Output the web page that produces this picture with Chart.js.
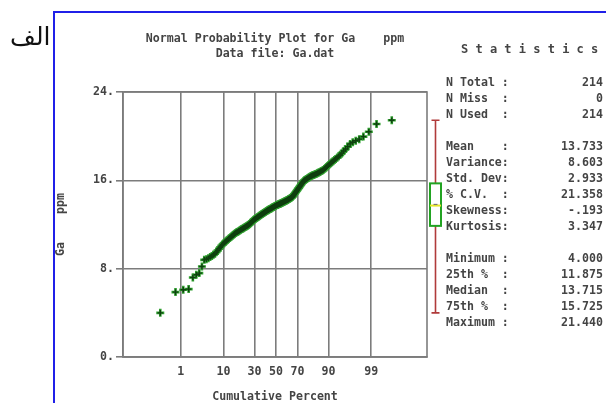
<!DOCTYPE html>
<html>
<head>
<meta charset="utf-8">
<script src="https://cdn.jsdelivr.net/npm/chart.js@4.4.1/dist/chart.umd.min.js"></script>
<style>
  body { margin: 0; background: #fff; }
  #wrap { position: relative; width: 606px; height: 403px; overflow: hidden; }
  #wrap canvas { position: absolute; left: 0; top: 0; }
  .mono { font-family: 'DejaVu Sans Mono', monospace; font-size: 11.6px; font-weight: bold; color: #444; white-space: pre; }
  #frame { position: absolute; left: 53px; top: 11px; right: 0; bottom: 0; border-left: 2px solid #2020e8; border-top: 2px solid #2020e8; }
  #alef { position: absolute; left: 10px; top: 22px; font-family: 'DejaVu Sans', sans-serif; font-size: 25px; color: #111; direction: rtl; }
  #title { position: absolute; left: 75px; width: 400px; top: 31px; text-align: center; line-height: 15px; }
  #statHead { position: absolute; left: 461px; top: 42px; font-size: 12px; }
  #stats { position: absolute; left: 446px; top: 74px; width: 157px; }
  #stats div { display: flex; justify-content: space-between; height: 16px; line-height: 16px; }
</style>
</head>
<body>
<div id="wrap">
  <canvas id="probPlot" width="606" height="403"></canvas>
  <div id="frame"></div>
  <div id="alef">الف</div>
  <div id="title" class="mono">Normal Probability Plot for Ga    ppm
Data file: Ga.dat</div>
  <div id="statHead" class="mono">S t a t i s t i c s</div>
  <div id="stats" class="mono"></div>
</div>
<script>
// Ga (ppm), sorted ascending, 214 samples
const gaValues = [
  4.00, 5.88, 6.09, 6.15, 7.20, 7.45, 7.60, 8.20, 8.80, 8.85,
  8.95, 9.05, 9.15, 9.25, 9.35, 9.50, 9.65, 9.80, 9.93, 10.06,
  10.18, 10.30, 10.39, 10.47, 10.55, 10.62, 10.70, 10.77, 10.84, 10.91,
  10.98, 11.04, 11.11, 11.17, 11.22, 11.27, 11.31, 11.35, 11.40, 11.44,
  11.48, 11.52, 11.56, 11.59, 11.63, 11.67, 11.71, 11.74, 11.78, 11.82,
  11.85, 11.89, 11.92, 11.95, 12.00, 12.05, 12.10, 12.15, 12.20, 12.25,
  12.30, 12.35, 12.40, 12.45, 12.48, 12.52, 12.55, 12.59, 12.62, 12.65,
  12.69, 12.72, 12.75, 12.79, 12.82, 12.85, 12.88, 12.92, 12.95, 12.98,
  13.01, 13.04, 13.07, 13.10, 13.13, 13.16, 13.19, 13.22, 13.25, 13.28,
  13.30, 13.33, 13.35, 13.38, 13.40, 13.43, 13.46, 13.48, 13.51, 13.53,
  13.56, 13.58, 13.61, 13.63, 13.66, 13.68, 13.69, 13.74, 13.76, 13.77,
  13.79, 13.81, 13.83, 13.85, 13.87, 13.89, 13.91, 13.93, 13.95, 13.97,
  13.99, 14.02, 14.04, 14.06, 14.08, 14.10, 14.13, 14.15, 14.17, 14.20,
  14.22, 14.25, 14.28, 14.31, 14.33, 14.36, 14.39, 14.42, 14.45, 14.48,
  14.52, 14.58, 14.65, 14.72, 14.79, 14.85, 14.92, 14.99, 15.06, 15.13,
  15.20, 15.27, 15.34, 15.41, 15.49, 15.55, 15.63, 15.71, 15.78, 15.86,
  15.93, 15.98, 16.02, 16.05, 16.09, 16.13, 16.17, 16.21, 16.25, 16.29,
  16.33, 16.37, 16.40, 16.43, 16.46, 16.48, 16.51, 16.54, 16.57, 16.60,
  16.64, 16.68, 16.72, 16.76, 16.81, 16.85, 16.89, 16.94, 17.02, 17.10,
  17.19, 17.28, 17.37, 17.45, 17.54, 17.63, 17.73, 17.84, 17.94, 18.05,
  18.17, 18.30, 18.46, 18.65, 18.84, 19.05, 19.30, 19.45, 19.58, 19.73,
  19.96, 20.40, 21.10, 21.44
]

const percentTicks = [1, 10, 30, 50, 70, 90, 99]

const statLabels = ['N Total :', 'N Miss  :', 'N Used  :', '',
  'Mean    :', 'Variance:', 'Std. Dev:', '% C.V.  :', 'Skewness:', 'Kurtosis:', '',
  'Minimum :', '25th %  :', 'Median  :', '75th %  :', 'Maximum :']
const statValues = ['214', '0', '214', '',
  '13.733', '8.603', '2.933', '21.358', '-.193', '3.347', '',
  '4.000', '11.875', '13.715', '15.725', '21.440']

// box plot summary: min, q1, median, q3, max, mean
const boxStats = { min: 4.0, q1: 11.875, median: 13.715, q3: 15.725, max: 21.44, mean: 13.733 }

// inverse normal CDF (Acklam)
function probit(p) {
  const a = [-3.969683028665376e+01, 2.209460984245205e+02, -2.759285104469687e+02, 1.383577518672690e+02, -3.066479806614716e+01, 2.506628277459239e+00]
  const b = [-5.447609879822406e+01, 1.615858368580409e+02, -1.556989798598866e+02, 6.680131188771972e+01, -1.328068155288572e+01]
  const c = [-7.784894002430293e-03, -3.223964580411365e-01, -2.400758277161838e+00, -2.549732539343734e+00, 4.374664141464968e+00, 2.938163982698783e+00]
  const d = [7.784695709041462e-03, 3.224671290700398e-01, 2.445134137142996e+00, 3.754408661907416e+00]
  const tail = (q) => (((((c[0] * q + c[1]) * q + c[2]) * q + c[3]) * q + c[4]) * q + c[5]) /
    ((((d[0] * q + d[1]) * q + d[2]) * q + d[3]) * q + 1)
  if (p < 0.02425) return tail(Math.sqrt(-2 * Math.log(p)))
  if (p > 1 - 0.02425) return -tail(Math.sqrt(-2 * Math.log(1 - p)))
  const q = p - 0.5
  const r = q * q
  return (((((a[0] * r + a[1]) * r + a[2]) * r + a[3]) * r + a[4]) * r + a[5]) * q /
    (((((b[0] * r + b[1]) * r + b[2]) * r + b[3]) * r + b[4]) * r + 1)
}

// statistics table
const statsBox = document.getElementById('stats')
statLabels.forEach((label, i) => {
  const row = document.createElement('div')
  row.innerHTML = '<span>' + label + '</span><span>' + statValues[i] + '</span>'
  statsBox.appendChild(row)
})

// plotting position (i - 0.5) / n on the normal quantile axis
const points = gaValues.map((v, i) => ({ x: probit((i + 0.5) / gaValues.length), y: v }))

const gridColor = '#7c7c7c'
const tickFont = { family: 'DejaVu Sans Mono', size: 11.6, weight: 'bold' }

// plot frame plus the box-and-whisker beside the y range
const extras = {
  id: 'extras',
  beforeDatasetsDraw(chart) {
    const { ctx, chartArea } = chart
    ctx.save()
    ctx.strokeStyle = gridColor
    ctx.lineWidth = 1.6
    ctx.strokeRect(chartArea.left, chartArea.top, chartArea.right - chartArea.left, chartArea.bottom - chartArea.top)
    ctx.restore()
  },
  afterDatasetsDraw(chart) {
    const { ctx, chartArea } = chart
    const y = chart.scales.y
    const cx = chartArea.right + 8.5
    const half = 5.5
    ctx.save()
    ctx.strokeStyle = '#b03a3a'
    ctx.lineWidth = 1.6
    ctx.beginPath()
    ctx.moveTo(cx, y.getPixelForValue(boxStats.max))
    ctx.lineTo(cx, y.getPixelForValue(boxStats.min))
    ctx.moveTo(cx - 4, y.getPixelForValue(boxStats.max))
    ctx.lineTo(cx + 4, y.getPixelForValue(boxStats.max))
    ctx.moveTo(cx - 4, y.getPixelForValue(boxStats.min))
    ctx.lineTo(cx + 4, y.getPixelForValue(boxStats.min))
    ctx.stroke()

    const top = y.getPixelForValue(boxStats.q3)
    const bottom = y.getPixelForValue(boxStats.q1)
    ctx.fillStyle = '#ffffff'
    ctx.fillRect(cx - half, top, half * 2, bottom - top)
    ctx.strokeStyle = '#22a322'
    ctx.lineWidth = 2
    ctx.strokeRect(cx - half, top, half * 2, bottom - top)

    const med = y.getPixelForValue(boxStats.median)
    ctx.strokeStyle = '#e6e62a'
    ctx.beginPath()
    ctx.moveTo(cx - half, med)
    ctx.lineTo(cx + half, med)
    ctx.stroke()

    const mean = y.getPixelForValue(boxStats.mean)
    ctx.strokeStyle = '#666'
    ctx.lineWidth = 1
    ctx.beginPath()
    ctx.moveTo(cx - 2, mean - 1)
    ctx.lineTo(cx + 2, mean - 1)
    ctx.stroke()
    ctx.restore()
  }
}

const config = {
  type: 'scatter',
  data: {
    datasets: [
      {
        // dark core of each marker, drawn over the green outline below
        label: 'Ga ppm',
        data: points,
        pointStyle: 'cross',
        pointRadius: 2.8,
        pointBorderWidth: 1.4,
        borderColor: '#0f3f0f',
        backgroundColor: '#0f3f0f',
        order: 1
      },
      {
        label: 'Ga ppm outline',
        data: points,
        pointStyle: 'cross',
        pointRadius: 4,
        pointBorderWidth: 2.6,
        borderColor: '#2f9f2f',
        backgroundColor: '#2f9f2f',
        order: 2
      }
    ]
  },
  options: {
    responsive: false,
    animation: false,
    layout: {
      padding: { left: 55, top: 92, right: 179, bottom: 0 }
    },
    plugins: {
      legend: { display: false },
      tooltip: { enabled: false }
    },
    scales: {
      x: {
        type: 'linear',
        min: -3.74,
        max: 3.69,
        afterBuildTicks: (scale) => {
          scale.ticks = percentTicks.map((p) => ({ value: probit(p / 100) }))
        },
        afterFit: (scale) => { scale.height = 46 },
        ticks: {
          autoSkip: false,
          maxRotation: 0,
          padding: 8,
          color: '#444',
          font: tickFont,
          callback: (value, index) => percentTicks[index]
        },
        grid: { color: gridColor, lineWidth: 1.6, drawTicks: false },
        border: { color: gridColor, width: 1.6 },
        title: {
          display: true,
          text: 'Cumulative Percent',
          color: '#444',
          font: { family: 'DejaVu Sans Mono', size: 11.6, weight: 'bold', lineHeight: 1 },
          padding: 0
        }
      },
      y: {
        min: 0,
        max: 24,
        afterFit: (scale) => { scale.width = 68 },
        ticks: {
          stepSize: 8,
          padding: 2,
          color: '#444',
          font: tickFont,
          callback: (value) => value + '.'
        },
        grid: { color: gridColor, lineWidth: 1.6, tickLength: 7 },
        border: { color: gridColor, width: 1.6 },
        title: {
          display: true,
          text: 'Ga    ppm',
          color: '#444',
          font: { family: 'DejaVu Sans Mono', size: 11.6, weight: 'bold', lineHeight: 1 },
          padding: 0
        }
      }
    }
  },
  plugins: [extras]
}

new Chart(document.getElementById('probPlot').getContext('2d'), config)
</script>
</body>
</html>
